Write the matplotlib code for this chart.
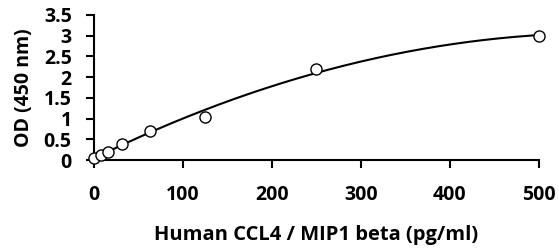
import numpy as np
import matplotlib.pyplot as plt

conc = [0, 7.8, 15.6, 31.25, 62.5, 125, 250, 500]
od = [0.05, 0.12, 0.2, 0.4, 0.7, 1.05, 2.2, 3.0]

plt.rcParams['font.family'] = ['Open Sans', 'DejaVu Sans']

fig = plt.figure(figsize=(5.59, 2.49), dpi=100)
ax = fig.add_axes([0.168, 0.357, 0.796, 0.583])

# quadratic trendline
coef = np.polyfit(conc, od, 2)
xs = np.linspace(0, 500, 200)
ax.plot(xs, np.polyval(coef, xs), color="black", lw=1.5, zorder=2)
ax.plot(conc, od, "o", mfc="white", mec="black", ms=8, mew=1.0, zorder=3, clip_on=False)

ax.set_xlim(0, 500)
ax.set_ylim(0, 3.5)
ax.set_xticks([0, 100, 200, 300, 400, 500])
ax.set_yticks([0, 0.5, 1, 1.5, 2, 2.5, 3, 3.5])
ax.set_yticklabels(["0", "0.5", "1", "1.5", "2", "2.5", "3", "3.5"])
for s in ["top", "right"]:
    ax.spines[s].set_visible(False)
for s in ["left", "bottom"]:
    ax.spines[s].set_linewidth(1.5)
ax.tick_params(direction="out", width=1.5, length=6, labelsize=14)
ax.tick_params(axis="x", pad=12)
ax.tick_params(axis="y", pad=10)
for lbl in ax.get_xticklabels() + ax.get_yticklabels():
    lbl.set_fontweight("bold")
ax.set_xlabel("Human CCL4 / MIP1 beta (pg/ml)", fontsize=14.5, fontweight="bold", labelpad=14)
ax.set_ylabel("OD (450 nm)", fontsize=14, fontweight="bold", labelpad=7)

fig.savefig("out.png", dpi=100)
